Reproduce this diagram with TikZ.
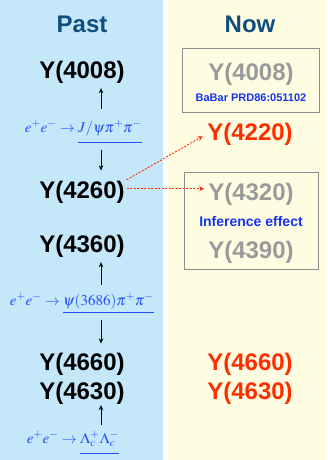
\documentclass[tikz,border=0pt]{standalone}
\usepackage{mathptmx}
\usepackage{fontspec}
\setmainfont{Liberation Sans}
\usetikzlibrary{arrows.meta}
\definecolor{pastbg}{HTML}{C4E7FA}
\definecolor{nowbg}{HTML}{FFFDE1}
\definecolor{headblue}{HTML}{104E7E}
\definecolor{mathblue}{HTML}{2150FF}
\definecolor{refblue}{HTML}{1533F0}
\definecolor{newred}{HTML}{FF2E00}
\definecolor{oldgray}{HTML}{9A9A9A}
\definecolor{boxgray}{HTML}{8C8C8C}
\tikzset{
  head/.style={font=\bfseries\fontsize{24}{28}\selectfont, text=headblue, inner sep=0, anchor=base},
  ylab/.style={font=\bfseries\fontsize{24}{28}\selectfont, inner sep=0, anchor=base},
  oldlab/.style={ylab, text=oldgray},
  newlab/.style={ylab, text=newred},
  proc/.style={font=\fontsize{15}{18}\selectfont, text=mathblue, inner sep=0, anchor=base},
  uline/.style={draw=mathblue, line width=1pt},
  flow/.style={draw=black, line width=1pt, -{Stealth[length=5pt,width=4.5pt]}},
  link/.style={draw=newred, line width=0.9pt, dash pattern=on 2pt off 1.5pt, -{Stealth[length=5pt,width=5pt]}},
  frame/.style={draw=boxgray, line width=1pt, inner sep=0},
  note/.style={font=\bfseries\fontsize{11}{13}\selectfont, text=refblue, inner sep=0, anchor=base},
}
\begin{document}
\begin{tikzpicture}[x=1pt,y=-1pt]
\useasboundingbox (0,0) rectangle (327,460);
\fill[pastbg] (0,0) rectangle (163,460);
\fill[white] (163,0) rectangle (167,460);
\fill[nowbg] (167,0) rectangle (327,460);

% headings
\node[head] (past) at (82,33) {Past};
\node[head] (now) at (250,33) {Now};

% left column
\node[ylab] (l4008) at (82,78) {Y(4008)};
\node[proc, anchor=base east] (p1a) at (75,132) {$e^+e^-\to$};
\node[proc, anchor=base west] (p1b) at ([xshift=3pt]p1a.base east) {$J/\psi\pi^+\pi^-$};
\draw[uline] ([yshift=-10pt]p1b.base west) -- ([yshift=-10pt]p1b.base east);
\node[ylab] (l4260) at (82,198) {Y(4260)};
\node[ylab] (l4360) at (82,252) {Y(4360)};
\node[proc, anchor=base east] (p2a) at (60,305) {$e^+e^-\to$};
\node[proc, anchor=base west] (p2b) at ([xshift=3pt]p2a.base east) {$\psi(3686)\pi^+\pi^-$};
\draw[uline] ([yshift=-7pt]p2b.base west) -- ([yshift=-7pt]p2b.base east);
\node[ylab] (l4660) at (82,370) {Y(4660)};
\node[ylab] (l4630) at (82,399) {Y(4630)};
\node[proc, anchor=base east] (p3a) at (77,443) {$e^+e^-\to$};
\node[proc, anchor=base west] (p3b) at ([xshift=3pt]p3a.base east) {$\Lambda_c^+\Lambda_c^-$};
\draw[uline] ([yshift=-10pt]p3b.base west) -- ([yshift=-10pt]p3b.base east);

\coordinate (ax) at (101,0);
\draw[flow, shorten <=11pt, shorten >=5pt] (p1b.north -| ax) -- (l4008.south -| ax);
\draw[flow, shorten <=14pt, shorten >=10pt] (p1b.south -| ax) -- (l4260.north -| ax);
\draw[flow, shorten <=8pt, shorten >=5pt] (p2b.north -| ax) -- (l4360.south -| ax);
\draw[flow, shorten <=11pt, shorten >=9pt] (p2b.south -| ax) -- (l4660.north -| ax);
\draw[flow, shorten <=6pt, shorten >=1pt] (p3b.north -| ax) -- (l4630.south -| ax);

% right column
\node[frame, minimum width=137pt, minimum height=63pt] (box1) at (250.5,80.5) {};
\node[oldlab] (r4008) at (251,80) {Y(4008)};
\node[note] (babar) at (251,101) {BaBar PRD86:051102};
\node[newlab] (r4220) at (250,140) {Y(4220)};
\node[frame, minimum width=134pt, minimum height=97pt] (box2) at (251,220.5) {};
\node[oldlab] (r4320) at (251,200) {Y(4320)};
\node[note, font=\bfseries\fontsize{14}{16}\selectfont] (inter) at (251,226) {Inference effect};
\node[oldlab] (r4390) at (251,258) {Y(4390)};
\node[newlab] (r4660) at (250,370) {Y(4660)};
\node[newlab] (r4630) at (250,399) {Y(4630)};

\draw[link, shorten <=2pt, shorten >=5pt] ([yshift=11pt]l4260.east) -- (r4220.west);
\draw[link, shorten <=2pt, shorten >=4pt] ([yshift=3pt]l4260.east) -- ([yshift=5pt]r4320.west);
\end{tikzpicture}
\end{document}
